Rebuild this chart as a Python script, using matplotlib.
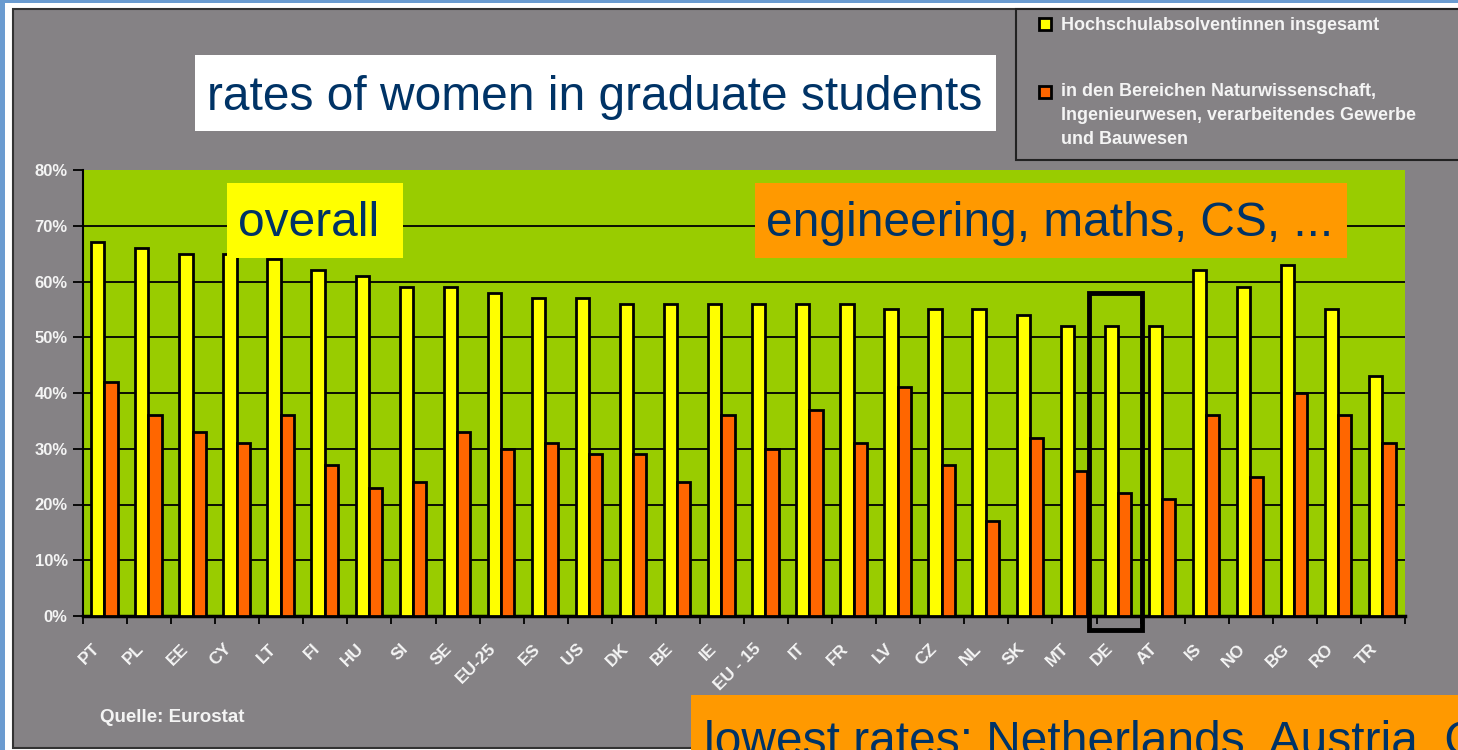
import matplotlib
matplotlib.use("Agg")
from matplotlib import pyplot as plt
from matplotlib.patches import Rectangle
from matplotlib.ticker import FixedLocator, FuncFormatter
import matplotlib.transforms as mtransforms
import numpy as np

countries = ["PT", "PL", "EE", "CY", "LT", "FI", "HU", "SI", "SE", "EU-25",
             "ES", "US", "DK", "BE", "IE", "EU - 15", "IT", "FR", "LV", "CZ",
             "NL", "SK", "MT", "DE", "AT", "IS", "NO", "BG", "RO", "TR"]
overall = [67, 66, 65, 65, 64, 62, 61, 59, 59, 58,
           57, 57, 56, 56, 56, 56, 56, 56, 55, 55,
           55, 54, 52, 52, 52, 62, 59, 63, 55, 43]
engineering = [42, 36, 33, 31, 36, 27, 23, 24, 33, 30,
               31, 29, 29, 24, 36, 30, 37, 31, 41, 27,
               17, 32, 26, 22, 21, 36, 25, 40, 36, 31]
legend_labels = ["Hochschulabsolventinnen insgesamt",
                 "in den Bereichen Naturwissenschaft,\nIngenieurwesen, verarbeitendes Gewerbe\nund Bauwesen"]
highlight = "DE"

W, H = 1458, 750
gray = "#858285"
navy = "#003366"
plt.rcParams["font.family"] = ["Liberation Sans", "DejaVu Sans"]


def fx(px):
    return px / W


def fy(py):
    return 1 - py / H


fig = plt.figure(figsize=(W / 100, H / 100), dpi=100, facecolor="#6A9BD0")

# frame: white strip, then gray panel with dark border
fig.patches.append(Rectangle((fx(5), 0), 1, fy(3), transform=fig.transFigure,
                             facecolor="white", edgecolor="none", zorder=-3))
fig.patches.append(Rectangle((fx(13), fy(748)), 1.2, fy(9) - fy(748), transform=fig.transFigure,
                             facecolor=gray, edgecolor="#333333", lw=1.5, zorder=-2))

ax = fig.add_axes([fx(83), fy(616), fx(1405) - fx(83), fy(170) - fy(616)])
ax.set_facecolor("#99CC00")

x = np.arange(len(countries))
ax.bar(x - 0.165, overall, width=0.3, color="#FFFF00", edgecolor="black", lw=2, zorder=3)
ax.bar(x + 0.135, engineering, width=0.3, color="#FF6600", edgecolor="black", lw=2, zorder=3)

ax.set_xlim(-0.5, len(countries) - 0.5)
ax.set_ylim(0, 80)
ax.set_yticks(range(0, 81, 10))
ax.yaxis.set_major_formatter(FuncFormatter(lambda v, p: "%d%%" % v))
ax.grid(axis="y", color="black", lw=1.3, zorder=1)
ax.set_axisbelow(True)
ax.get_ygridlines()[-1].set_visible(False)

for s in ["top", "right"]:
    ax.spines[s].set_visible(False)
ax.spines["left"].set_linewidth(1.5)
ax.spines["bottom"].set_linewidth(2.5)

ax.tick_params(axis="y", length=7, width=1.3, pad=4, colors="black", labelcolor="#F4F4F4",
               labelsize=12)
ax.set_xticks(x)
ax.set_xticklabels(countries, rotation=45, ha="right", rotation_mode="anchor",
                   fontsize=12.5, color="#F4F4F4", fontweight="bold")
ax.tick_params(axis="x", length=0, pad=18)
ax.xaxis.set_minor_locator(FixedLocator(np.arange(-0.5, len(countries), 1)))
ax.tick_params(axis="x", which="minor", length=6, width=1.3, color="black")
off = mtransforms.ScaledTranslation(-0.13, 0, fig.dpi_scale_trans)
for lab in ax.get_xticklabels():
    lab.set_transform(lab.get_transform() + off)
for lab in ax.get_yticklabels():
    lab.set_fontweight("bold")

# box around DE
i = countries.index(highlight)
ax.add_patch(Rectangle((i - 0.67, -2.5), 1.2, 60.5, fill=False, edgecolor="black",
                       lw=3.5, clip_on=False, zorder=5))

# legend box
fig.patches.append(Rectangle((fx(1016), fy(160)), 0.5, fy(9) - fy(160), transform=fig.transFigure,
                             facecolor=gray, edgecolor="#222222", lw=1.5, zorder=1))
fig.patches.append(Rectangle((fx(1039), fy(30)), fx(12), fy(18) - fy(30), transform=fig.transFigure,
                             facecolor="#FFFF00", edgecolor="black", lw=2, zorder=2))
fig.patches.append(Rectangle((fx(1039), fy(98)), fx(12), fy(86) - fy(98), transform=fig.transFigure,
                             facecolor="#FF6600", edgecolor="black", lw=2, zorder=2))
fig.text(fx(1061), fy(25), legend_labels[0], color="#F4F4F4", fontsize=13, fontweight="bold",
         va="center", ha="left")
fig.text(fx(1061), fy(83), legend_labels[1], color="#F4F4F4", fontsize=13, fontweight="bold",
         va="top", ha="left", linespacing=1.55)

# annotation boxes
fig.patches.append(Rectangle((fx(195), fy(131)), fx(996) - fx(195), fy(55) - fy(131),
                             transform=fig.transFigure, facecolor="white", edgecolor="none", zorder=2))
fig.text(fx(207), fy(98), "rates of women in graduate students", color=navy, fontsize=34.5,
         va="center", ha="left", zorder=3)

fig.patches.append(Rectangle((fx(227), fy(258)), fx(403) - fx(227), fy(183) - fy(258),
                             transform=fig.transFigure, facecolor="#FFFF00", edgecolor="none", zorder=6))
fig.text(fx(238), fy(224), "overall", color=navy, fontsize=34.5, va="center", ha="left", zorder=7)

fig.patches.append(Rectangle((fx(755), fy(258)), fx(1347) - fx(755), fy(183) - fy(258),
                             transform=fig.transFigure, facecolor="#FF9900", edgecolor="none", zorder=6))
fig.text(fx(766), fy(224), "engineering, maths, CS, ...", color=navy, fontsize=34.5,
         va="center", ha="left", zorder=7)

fig.patches.append(Rectangle((fx(691), 0), 1, fy(695), transform=fig.transFigure,
                             facecolor="#FF9900", edgecolor="none", zorder=6))
fig.text(fx(704), fy(755), "lowest rates: Netherlands, Austria, Germany", color=navy, fontsize=34.5,
         va="baseline", ha="left", zorder=7)

fig.text(fx(100), fy(717), "Quelle: Eurostat", color="#F4F4F4", fontsize=13.5, fontweight="bold",
         va="center", ha="left")

fig.savefig("out.png", dpi=100, facecolor=fig.get_facecolor())
